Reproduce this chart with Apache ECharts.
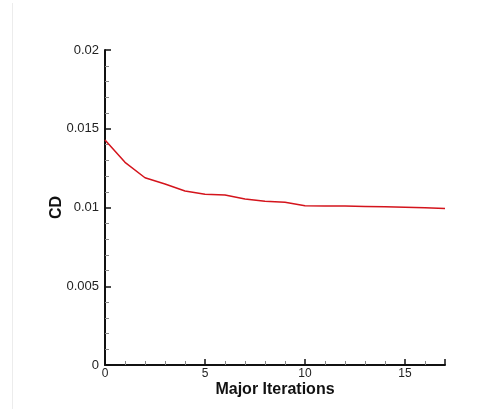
<!DOCTYPE html>
<html><head><meta charset="utf-8">
<script src="https://cdn.jsdelivr.net/npm/echarts@6/dist/echarts.min.js"></script>
<style>html,body{margin:0;padding:0;background:#fff;}#c{width:490px;height:409px;}</style>
</head><body><div id="c"></div>
<script>
const iterations = [0,1,2,3,4,5,6,7,8,9,10,11,12,13,14,15,16,17];
const cdValues = [0.01429,0.01287,0.01189,0.01149,0.01105,0.01084,0.01079,0.01054,0.01039,0.01033,0.01011,0.01010,0.01009,0.01007,0.01004,0.01001,0.00998,0.00994];
const yTicks = {min:0, max:0.02, interval:0.005};
const xTicks = {min:0, max:17, interval:5};

const chart = echarts.init(document.getElementById('c'), null, {renderer:'canvas'});
const font = '"Liberation Sans", Arial, sans-serif';
chart.setOption({
  backgroundColor:'#ffffff',
  animation:false,
  graphic:[
    {type:'line', shape:{x1:12.5,y1:3,x2:12.5,y2:409}, style:{stroke:'#ececec', lineWidth:1}, silent:true}
  ],
  grid:{left:105, right:45, top:50, bottom:44},
  xAxis:{
    type:'value', min:xTicks.min, max:xTicks.max, interval:xTicks.interval,
    name:'Major Iterations', nameLocation:'middle', nameGap:17, nameMoveOverlap:false,
    nameTextStyle:{fontFamily:font, fontWeight:'bold', fontSize:16, color:'#111'},
    axisLine:{show:true, onZero:false, lineStyle:{color:'#111', width:2}},
    axisTick:{show:true, inside:true, length:6, lineStyle:{color:'#111', width:1.5}},
    minorTick:{show:true, splitNumber:5, length:4, lineStyle:{color:'#888', width:1}},
    axisLabel:{fontFamily:font, fontSize:12, color:'#222', margin:3,
      formatter:v => (v % xTicks.interval === 0 ? String(v) : '')},
    splitLine:{show:false}
  },
  yAxis:{
    type:'value', min:yTicks.min, max:yTicks.max, interval:yTicks.interval,
    name:'CD', nameLocation:'middle', nameGap:40, nameRotate:90, nameMoveOverlap:false,
    nameTextStyle:{fontFamily:font, fontWeight:'bold', fontSize:16, color:'#111'},
    axisLine:{show:true, onZero:false, lineStyle:{color:'#111', width:2}},
    axisTick:{show:true, inside:true, length:6, lineStyle:{color:'#111', width:1.5}},
    minorTick:{show:true, splitNumber:5, length:4, lineStyle:{color:'#888', width:1}},
    axisLabel:{fontFamily:font, fontSize:13, color:'#222', margin:6},
    splitLine:{show:false}
  },
  series:[{
    type:'line', data:iterations.map((x,i)=>[x,cdValues[i]]),
    showSymbol:false, lineStyle:{color:'#d4141c', width:1.5}
  }]
});
</script></body></html>
